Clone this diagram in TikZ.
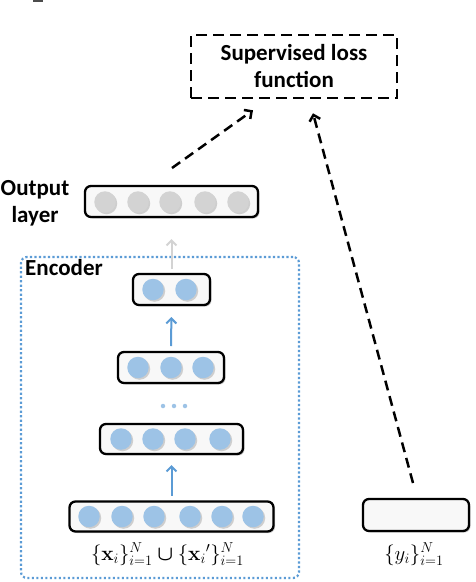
\documentclass[tikz,border=0pt]{standalone}
\usepackage{amsmath,bm}
\usepackage[no-math]{fontspec}
\setmainfont{Carlito}
\usetikzlibrary{shadows,calc,arrows.meta}
\definecolor{cblue}{HTML}{9DC3E6}
\definecolor{ablue}{HTML}{5B9BD5}
\definecolor{cgray}{HTML}{D3D3D3}
\definecolor{bfill}{HTML}{F8F8F8}
\begin{document}
\begin{tikzpicture}[x=1pt,y=-1pt,
  layerbox/.style={draw=black,line width=2.3pt,rounded corners=6pt,fill=bfill,
    drop shadow={shadow xshift=1.5pt,shadow yshift=-1.5pt,opacity=0.4},
    inner sep=0pt,outer sep=0pt},
  neuron/.style={circle,fill=cblue,minimum size=21.5pt,inner sep=0pt,
    drop shadow={shadow xshift=1.5pt,shadow yshift=-1.5pt,opacity=0.35}},
  gneuron/.style={neuron,fill=cgray},
  blabel/.style={font=\fontsize{23}{27}\selectfont\bfseries,align=center,inner sep=0pt},
  mlabel/.style={font=\fontsize{21}{24}\selectfont,inner sep=0pt},
  flow/.style={line width=2pt,-{Straight Barb[length=5pt,width=10pt]}},
  dflow/.style={line width=2.5pt,dash pattern=on 10pt off 6pt,-{Straight Barb[length=5.5pt,width=11pt]}}
]
\useasboundingbox (0,0) rectangle (476,582);
% top artifact
\draw[line width=2pt,black!70] (33,0.8) -- (43,0.8);

% loss box
\node[draw=black,line width=2.5pt,dash pattern=on 11pt off 6pt,minimum width=206pt,minimum height=63pt,
  blabel,inner sep=0pt] (loss) at (294,66.5) {Supervised loss\\function};

% encoder frame
\node[draw=ablue,line width=2.2pt,dash pattern=on 2.2pt off 2.3pt,rounded corners=6pt,minimum width=278pt,minimum height=321pt,inner sep=0pt] (enc) at (160,417.5) {};
\node[blabel,anchor=west] (enclabel) at (25,268) {Encoder};

% output layer
\node[layerbox,minimum width=173pt,minimum height=31pt] (out) at (171.5,201.5) {};
\foreach \x [count=\i] in {105,138,170,205,238}
  \node[gneuron] (o\i) at (\x,202) {};
\node[blabel] (outlabel) at (35,203) {Output\\layer};

% layer 2
\node[layerbox,minimum width=77pt,minimum height=31pt] (l2) at (171.5,289.5) {};
\foreach \x [count=\i] in {153,186}
  \node[neuron] (a\i) at (\x,289.5) {};

% layer 3
\node[layerbox,minimum width=106pt,minimum height=31pt] (l3) at (171,367.5) {};
\foreach \x [count=\i] in {138,171,203}
  \node[neuron] (b\i) at (\x,367.5) {};

% dots
\foreach \x [count=\i] in {163,174,185}
  \node[circle,fill=cblue,minimum size=4.5pt,inner sep=0pt] (d\i) at (\x,406) {};

% layer 4
\node[layerbox,minimum width=143pt,minimum height=30pt] (l4) at (171.5,439) {};
\foreach \x [count=\i] in {121,153,185,220}
  \node[neuron] (c\i) at (\x,439) {};

% layer 5
\node[layerbox,minimum width=204pt,minimum height=30pt] (l5) at (171.5,516.5) {};
\foreach \x [count=\i] in {89,122,154,190,222,253}
  \node[neuron] (e\i) at (\x,516.5) {};

% label box
\node[layerbox,minimum width=106pt,minimum height=32pt] (ybox) at (416,515) {};

% math labels
\node[mlabel] (xlab) at (167.5,554) {$\{\mathbf{x}_i\}_{i=1}^N \boldsymbol{\cup} \{{\mathbf{x}_i}'\}_{i=1}^N$};
\node[mlabel] (ylab) at (414,554) {$\{y_i\}_{i=1}^N$};

% arrows
\draw[flow,ablue,shorten <=6pt,shorten >=11pt] (l5.north) -- (l4.south);
\draw[flow,ablue,shorten <=6pt,shorten >=12pt] (l3.north) -- (l2.south);
\draw[flow,cgray,shorten <=5pt,shorten >=22pt] (l2.north) -- (out.south);

\coordinate (s1) at ($(out.north)+(0.5,-18)$);
\coordinate (t1) at ($(loss.south)+(-41,11)$);
\draw[dflow] (s1) -- (t1);
\coordinate (s2) at ($(ybox.north)+(-3,-16)$);
\coordinate (t2) at ($(loss.south)+(19,14)$);
\draw[dflow] (s2) -- (t2);
\end{tikzpicture}
\end{document}
